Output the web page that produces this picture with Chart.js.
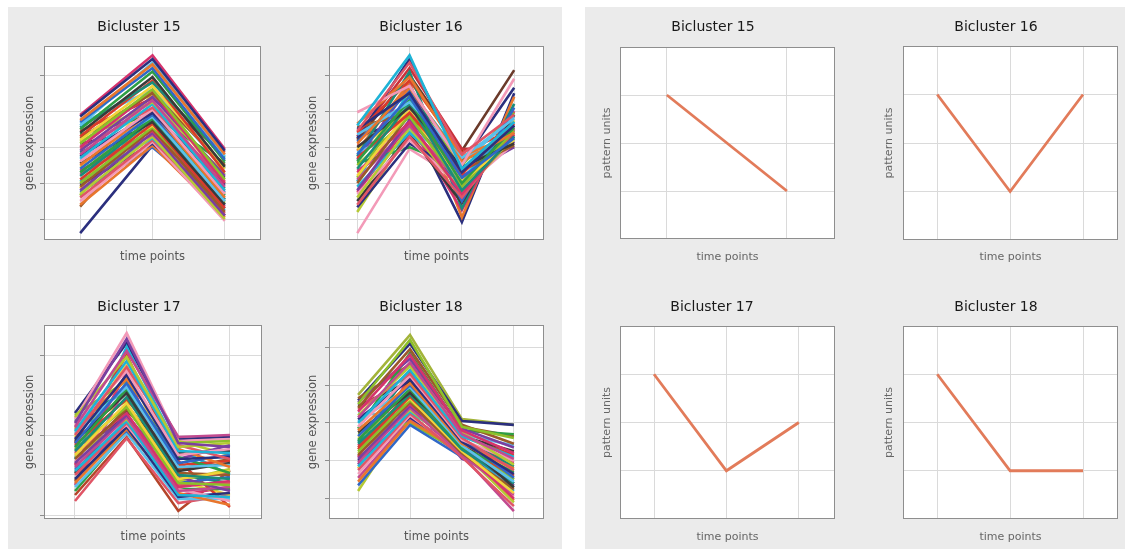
<!DOCTYPE html>
<html><head><meta charset="utf-8">
<script src="https://cdn.jsdelivr.net/npm/chart.js@4.4.1/dist/chart.umd.min.js"></script>
<style>
html,body{margin:0;padding:0;background:#fff;width:1127px;height:558px;overflow:hidden;position:relative;}
.bg{position:absolute;background:#ebebeb;}
canvas{position:absolute;}
</style></head><body>
<div class="bg" style="left:8px;top:7px;width:554px;height:542px"></div>
<div class="bg" style="left:585px;top:7px;width:540px;height:542px"></div>
<canvas id="c1"></canvas><canvas id="c2"></canvas><canvas id="c3"></canvas><canvas id="c4"></canvas>
<canvas id="c5"></canvas><canvas id="c6"></canvas><canvas id="c7"></canvas><canvas id="c8"></canvas>
<script>
// ---------------- DATA ----------------
const titles = ['Bicluster 15', 'Bicluster 16', 'Bicluster 17', 'Bicluster 18'];
const exprAxisLabel = 'gene expression';
const patternAxisLabel = 'pattern units';
const timeAxisLabel = 'time points';
const exprTicks = [-2, -1, 0, 1, 2];
const patternTicks = [1, 2, 3];

// Bicluster 15: 3 time points per gene
const bic15Expr = [
 [0.85,2.45,-0.10],[0.75,2.30,-0.20],[0.70,2.20,-0.35],[0.60,2.35,-0.25],[0.50,2.10,-0.40],
 [0.40,1.95,-0.55],[0.55,1.80,-0.30],[0.30,1.85,-0.70],[0.20,1.70,-0.60],[0.10,1.60,-0.90],
 [0.25,1.50,-0.50],[0.00,1.55,-1.00],[-0.10,1.40,-0.80],[-0.20,1.30,-1.10],[0.15,1.25,-0.75],
 [-0.30,1.20,-1.20],[-0.05,1.10,-0.95],[-0.40,1.05,-1.30],[-0.25,0.95,-1.05],[-0.50,1.00,-1.40],
 [-0.60,0.90,-1.25],[-0.35,0.85,-1.50],[-0.70,0.80,-1.35],[-0.45,0.70,-1.60],[-0.80,0.75,-1.45],
 [-0.90,0.65,-1.70],[-0.55,0.60,-1.20],[-1.00,0.55,-1.55],[-1.10,0.50,-1.80],[-0.65,0.45,-1.65],
 [-1.20,0.40,-1.90],[-0.75,0.35,-1.45],[-1.30,0.30,-2.00],[-0.95,0.25,-1.75],[-1.40,0.20,-1.85],
 [-1.50,0.15,-2.05],[-1.05,0.10,-1.60],[-1.60,0.05,-1.95],[-1.25,0.00,-1.70],[0.65,1.60,-0.60],
 [0.35,0.90,-0.45],[0.10,0.50,-0.85],[-0.15,0.75,-1.15],[0.45,1.35,-0.15],[-1.15,1.50,-1.00],
 [-1.35,0.95,-1.30],[-1.65,0.60,-1.90],[0.89,2.55,-0.05],[-2.39,0.05,-1.50]
];
// Bicluster 16: 4 time points per gene
const bic16Expr = [
 [0.60,2.55,-0.60,0.70],[0.45,2.35,-0.20,0.90],[0.97,1.70,-0.50,1.90],[0.50,1.50,-0.70,0.60],
 [0.10,1.65,-0.40,0.40],[-0.20,1.40,-0.85,0.25],[0.35,1.25,-0.30,0.80],[-0.40,1.30,-1.00,0.55],
 [0.00,1.10,-0.55,0.10],[-0.60,1.20,-1.20,0.30],[-0.30,0.95,-0.75,0.65],[-0.80,1.00,-0.95,0.20],
 [-0.50,0.85,-1.10,0.45],[-1.00,0.90,-0.65,0.05],[-0.70,0.70,-1.30,0.35],[-1.20,0.75,-0.85,0.15],
 [-0.90,0.60,-1.05,0.50],[-1.40,0.55,-1.25,0.25],[-1.10,0.40,-0.90,0.70],[-1.60,0.30,-1.40,0.40],
 [-1.30,0.20,-1.15,0.10],[-1.67,0.10,-0.70,0.60],[0.65,1.95,-0.25,0.35],[0.15,1.55,-1.50,1.10],
 [-0.15,0.50,-0.45,0.85],[-0.45,0.00,-0.60,0.30],[-1.50,0.35,-1.55,0.90],[-0.25,2.10,-1.70,1.20],
 [0.40,1.85,-0.15,0.50],[-0.05,1.00,-1.35,0.75],[-0.85,1.45,-0.50,0.95],[0.55,0.95,-0.35,0.15],
 [-1.25,0.65,-1.75,1.00],[-0.35,1.70,-0.80,0.00],[-0.65,0.25,-1.00,0.60],[-1.80,0.45,-1.20,0.40],
 [-0.95,1.60,-0.30,0.20],[0.05,0.30,-0.65,0.45],[-2.39,-0.05,-0.95,0.50],[0.25,2.45,-0.45,1.65],
 [-0.10,1.80,-1.95,1.40],[0.30,2.20,-0.05,0.00],[0.20,2.00,-0.10,2.14],[0.28,0.80,-2.08,1.50]
];
// Bicluster 17: 4 time points per gene
const bic17Expr = [
 [0.30,2.40,-0.20,-0.30],[0.20,2.10,-0.05,0.00],[0.45,1.95,-0.30,-0.20],[0.10,1.85,-0.40,-0.45],
 [0.00,1.70,-0.25,-0.60],[0.25,1.60,-0.50,-0.35],[-0.10,1.50,-0.60,-0.55],[0.15,1.40,-0.35,-0.80],
 [-0.20,1.30,-0.70,-0.50],[0.05,1.20,-0.80,-0.75],[-0.30,1.15,-0.55,-0.95],[-0.15,1.05,-0.90,-0.70],
 [-0.40,0.95,-1.00,-1.10],[-0.25,0.90,-0.75,-0.65],[-0.50,0.80,-1.10,-0.90],[-0.35,0.70,-1.20,-1.25],
 [-0.60,0.65,-0.95,-1.00],[-0.45,0.55,-1.30,-1.15],[-0.70,0.50,-1.05,-1.40],[-0.80,0.45,-1.40,-1.30],
 [-0.55,0.40,-1.15,-0.85],[-0.90,0.35,-1.50,-1.55],[-1.00,0.30,-1.25,-1.20],[-0.65,0.25,-1.35,-1.65],
 [-1.10,0.20,-1.55,-1.45],[-1.20,0.15,-1.45,-1.75],[-0.85,0.10,-1.20,-1.05],[-1.30,0.05,-1.60,-1.60],
 [-1.40,0.10,-1.35,-1.35],[-0.95,0.60,-0.45,-0.40],[0.35,1.10,-1.00,-1.20],[-0.20,2.00,-0.65,-1.80],
 [-0.05,1.75,-1.15,-1.50],[0.50,1.35,-0.20,-0.15],[-1.15,0.75,-0.85,-0.60],[-0.75,1.55,-1.50,-1.30],
 [-0.30,0.35,-0.60,-0.25],[-1.25,1.25,-1.10,-0.95],[0.20,0.85,-0.15,-0.50],[-0.60,2.20,-0.35,-1.00],
 [-1.65,-0.08,-1.70,-1.50],[0.40,2.55,-0.15,-0.10],[0.55,2.30,-0.10,-0.05],[-1.50,-0.05,-1.90,-0.88]
];
// Bicluster 18: 4 time points per gene
const bic18Expr = [
 [0.50,2.20,-0.10,-0.40],[0.40,1.95,-0.05,-0.55],[0.30,1.80,-0.20,-0.80],[0.55,1.70,-0.15,-0.65],
 [0.15,1.60,-0.30,-0.95],[0.20,1.50,-0.25,-1.10],[0.00,1.40,-0.35,-0.90],[0.35,1.30,-0.40,-1.25],
 [-0.10,1.25,-0.45,-1.00],[0.10,1.15,-0.50,-1.35],[-0.20,1.05,-0.55,-1.20],[-0.35,1.00,-0.40,-1.45],
 [0.05,0.95,-0.60,-1.55],[-0.45,0.90,-0.65,-1.30],[-0.25,0.80,-0.50,-1.70],[-0.55,0.75,-0.70,-1.60],
 [-0.65,0.70,-0.60,-1.40],[-0.40,0.65,-0.75,-1.85],[-0.75,0.60,-0.55,-1.50],[-0.85,0.55,-0.80,-1.75],
 [-0.60,0.50,-0.70,-2.00],[-0.95,0.45,-0.65,-1.65],[-1.05,0.40,-0.85,-1.90],[-0.80,0.35,-0.75,-2.10],
 [-1.15,0.30,-0.60,-1.80],[-1.25,0.25,-0.90,-2.20],[-1.35,0.20,-0.80,-1.95],[-1.00,0.15,-0.70,-1.60],
 [-1.55,0.05,-0.75,-2.05],[-1.65,-0.05,-0.90,-1.70],[0.25,0.20,-0.30,-0.60],[-0.15,1.85,-0.20,-0.30],
 [0.45,1.10,-0.35,-0.75],[-0.50,1.35,-0.45,-1.15],[-0.70,0.85,-0.35,-0.85],[-1.20,0.95,-0.55,-1.25],
 [-0.30,0.00,-0.80,-1.50],[0.65,1.55,-0.10,-0.35],[-0.90,1.20,-0.50,-1.05],[-1.10,0.70,-0.95,-1.40],
 [-1.45,0.10,-0.85,-2.33],[-1.80,0.30,-0.60,-1.45],[0.60,2.10,0.05,-0.05],[0.74,2.33,0.10,-0.05]
];

// Pattern (right-hand panels)
const bic15Pattern = [3, 1];
const bic16Pattern = [3, 1, 3];
const bic17Pattern = [3, 1, 2];
const bic18Pattern = [3, 1, 1];

const palette = ['#2b2f7e','#d6336c','#2e9e44','#1fb3d6','#f2d33a','#e8762d','#7b3fa0','#3a3a3a',
                 '#e05566','#8cbf2a','#2f68c8','#c24a8f','#1a8c7a','#f39ab8','#9b5a2a','#5bc0eb','#b5c934','#d93b2b'];
// colours of the last (top-most) lines in each panel
const bic15Accent = ['#2b2f7e'];
const bic16Accent = ['#c8323a', '#6b3a2a', '#2b2f7e'];
const bic17Accent = ['#b5452a'];
const bic18Accent = ['#2b2f7e', '#a3b43a'];
const patternColor = '#e27b5a';

// ---------------- LAYOUT / STYLE ----------------
const FONT = "'DejaVu Sans', sans-serif";
const frame = {
  id: 'frame',
  beforeDraw(chart) {
    const a = chart.chartArea, c = chart.ctx;
    c.save(); c.fillStyle = '#ffffff';
    c.fillRect(a.left, a.top, a.right - a.left, a.bottom - a.top); c.restore();
  },
  afterDraw(chart) {
    const a = chart.chartArea, c = chart.ctx;
    c.save(); c.strokeStyle = '#8e8e8e'; c.lineWidth = 1;
    const l = Math.round(a.left) + 0.5, t = Math.round(a.top) + 0.5;
    const r = Math.round(a.right) - 0.5, b = Math.round(a.bottom) - 0.5;
    c.strokeRect(l, t, r - l, b - t); c.restore();
  }
};

function makePanel(id, g, cfg) {
  const cv = document.getElementById(id);
  cv.width = g.w; cv.height = g.h;
  cv.style.left = g.x + 'px'; cv.style.top = g.y + 'px';
  const n = cfg.series[0].length;
  const xTickVals = Array.from({length: n}, (_, k) => k);
  const accent = cfg.accent || [];
  const N = cfg.series.length;
  const datasets = cfg.series.map((vals, i) => {
    let col = patternColor;
    if (cfg.expr) {
      const ai = i - (N - accent.length);
      col = ai >= 0 ? accent[ai] : palette[(i * 5 + cfg.shift) % palette.length];
    }
    return {
      data: vals.map((v, k) => ({x: k, y: v})),
      borderColor: col,
      borderWidth: cfg.expr ? 2.6 : 2.8,
      pointRadius: 0, tension: 0, fill: false
    };
  });
  const labFont = cfg.expr ? 11.5 : 11;
  new Chart(cv, {
    type: 'line',
    data: {datasets},
    options: {
      responsive: false, animation: false, events: [],
      layout: {padding: {left: 0, top: 0, right: 3, bottom: 0}},
      plugins: {
        legend: {display: false}, tooltip: {enabled: false},
        title: {display: true, text: cfg.title, color: '#1a1a1a',
                font: {family: FONT, size: 14, weight: 'normal'},
                padding: {top: g.tpt, bottom: g.tpb}}
      },
      scales: {
        x: {
          type: 'linear', min: g.xmin, max: g.xmax, bounds: 'data',
          afterBuildTicks: s => { s.ticks = xTickVals.map(v => ({value: v})); },
          afterFit: s => { s.height = 30; },
          ticks: {display: false},
          grid: {color: '#dadada', drawTicks: false},
          border: {display: false},
          title: {display: true, text: timeAxisLabel, color: cfg.expr ? '#555' : '#666',
                  font: {family: FONT, size: labFont}, padding: {top: 0, bottom: g.xpb}}
        },
        y: {
          type: 'linear', min: g.ymin, max: g.ymax, bounds: 'data',
          afterBuildTicks: s => { s.ticks = cfg.yTicks.map(v => ({value: v})); },
          afterFit: s => { s.width = g.yW; },
          ticks: {display: false},
          grid: {color: '#dadada', drawTicks: cfg.expr, tickLength: 4, tickColor: '#8e8e8e'},
          border: {display: false},
          title: {display: true, text: cfg.yLabel, color: cfg.expr ? '#555' : '#666',
                  font: {family: FONT, size: labFont}, padding: {top: g.ypt, bottom: 0}}
        }
      }
    },
    plugins: [frame]
  });
}

// geometry of each small panel on the page
const G = {
  p1: {x: 17,  y: 8,   w: 247, h: 262, yW: 27, tpt: 10.6, tpb: 10.6, ypt: 6.1,  xpb: 6.1, xmin: -0.5,  xmax: 2.5,  ymin: -2.58, ymax: 2.81},
  p2: {x: 298, y: 8,   w: 249, h: 262, yW: 31, tpt: 10.6, tpb: 10.6, ypt: 8.1,  xpb: 6.1, xmin: -0.54, xmax: 3.57, ymin: -2.58, ymax: 2.81},
  p3: {x: 16,  y: 287, w: 249, h: 262, yW: 28, tpt: 11.6, tpb: 9.6,  ypt: 7.1,  xpb: 5.1, xmin: -0.6,  xmax: 3.62, ymin: -2.1,  ymax: 2.75},
  p4: {x: 298, y: 287, w: 249, h: 262, yW: 31, tpt: 11.6, tpb: 9.6,  ypt: 8.1,  xpb: 5.1, xmin: -0.56, xmax: 3.58, ymin: -2.54, ymax: 2.59},
  p5: {x: 591, y: 8,   w: 247, h: 261, yW: 29, tpt: 10.6, tpb: 11.6, ypt: 9.4,  xpb: 5.4, xmin: -0.39, xmax: 1.4,  ymin: 0, ymax: 4},
  p6: {x: 874, y: 8,   w: 247, h: 262, yW: 29, tpt: 10.6, tpb: 10.6, ypt: 8.4,  xpb: 6.4, xmin: -0.47, xmax: 2.48, ymin: 0, ymax: 4},
  p7: {x: 589, y: 287, w: 249, h: 262, yW: 31, tpt: 11.6, tpb: 10.6, ypt: 11.4, xpb: 5.4, xmin: -0.47, xmax: 2.5,  ymin: 0, ymax: 4},
  p8: {x: 874, y: 287, w: 247, h: 262, yW: 29, tpt: 11.6, tpb: 10.6, ypt: 8.4,  xpb: 5.4, xmin: -0.47, xmax: 2.48, ymin: 0, ymax: 4}
};

makePanel('c1', G.p1, {title: titles[0], series: bic15Expr, expr: true, shift: 0, accent: bic15Accent, yTicks: exprTicks, yLabel: exprAxisLabel});
makePanel('c2', G.p2, {title: titles[1], series: bic16Expr, expr: true, shift: 3, accent: bic16Accent, yTicks: exprTicks, yLabel: exprAxisLabel});
makePanel('c3', G.p3, {title: titles[2], series: bic17Expr, expr: true, shift: 6, accent: bic17Accent, yTicks: exprTicks, yLabel: exprAxisLabel});
makePanel('c4', G.p4, {title: titles[3], series: bic18Expr, expr: true, shift: 9, accent: bic18Accent, yTicks: exprTicks, yLabel: exprAxisLabel});
makePanel('c5', G.p5, {title: titles[0], series: [bic15Pattern], expr: false, shift: 0, yTicks: patternTicks, yLabel: patternAxisLabel});
makePanel('c6', G.p6, {title: titles[1], series: [bic16Pattern], expr: false, shift: 0, yTicks: patternTicks, yLabel: patternAxisLabel});
makePanel('c7', G.p7, {title: titles[2], series: [bic17Pattern], expr: false, shift: 0, yTicks: patternTicks, yLabel: patternAxisLabel});
makePanel('c8', G.p8, {title: titles[3], series: [bic18Pattern], expr: false, shift: 0, yTicks: patternTicks, yLabel: patternAxisLabel});
</script>
</body></html>
